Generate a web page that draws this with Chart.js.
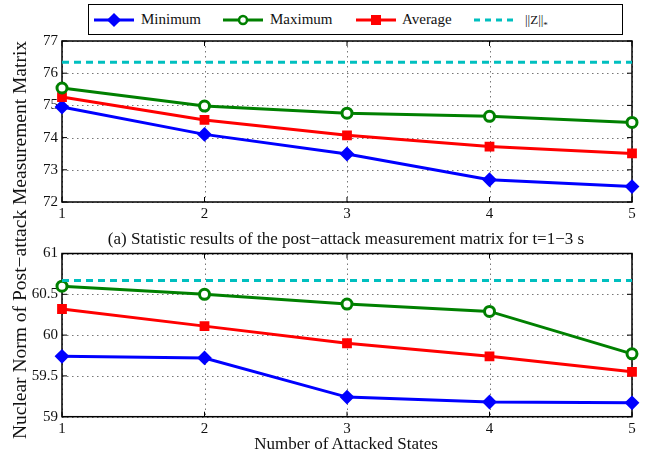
<!DOCTYPE html>
<html>
<head>
<meta charset="utf-8">
<script src="https://cdn.jsdelivr.net/npm/chart.js@4/dist/chart.umd.min.js"></script>
<style>
  body { margin: 0; background: #fff; }
  #wrap { position: relative; width: 652px; height: 459px; font-family: 'Liberation Serif', 'DejaVu Serif', serif; color: #111; }
  .cv { position: absolute; left: 0; }
  .legend { position: absolute; left: 88px; top: 4px; width: 533px; height: 29px; border: 1px solid #000; background: #fff; z-index: 3;
            font-family: 'Liberation Serif', serif; }
  .legend .item { position: absolute; top: 0; height: 29px; line-height: 29px; font-size: 15px; }
  .legend svg { position: absolute; top: 7px; }
  .caption { position: absolute; left: 0; width: 692px; top: 229px; text-align: center; font-size: 17px; }
  .xlabel { position: absolute; left: 0; width: 692px; top: 434px; text-align: center; font-size: 17px; }
  .ylabel { position: absolute; left: 20px; top: 240px; width: 480px; height: 24px; line-height: 24px; margin-left: -240px; margin-top: -12px;
            text-align: center; font-size: 19.5px; transform: rotate(-90deg); white-space: nowrap; color: #111; z-index: 2; }
</style>
</head>
<body>
<div id="wrap">
  <canvas id="top" class="cv" width="652" height="230" style="top:0"></canvas>
  <canvas id="bot" class="cv" width="652" height="229" style="top:230px"></canvas>

  <div class="legend">
    <svg style="left:4px" width="42" height="16"><line x1="1" y1="8" x2="41" y2="8" stroke="#0000ff" stroke-width="3"/><path d="M21 2 L27 8 L21 14 L15 8 Z" fill="#0000ff" stroke="#0000ff" stroke-width="1.5"/></svg>
    <span class="item" style="left:52px">Minimum</span>
    <svg style="left:133px" width="42" height="16"><line x1="1" y1="8" x2="41" y2="8" stroke="#008000" stroke-width="3"/><circle cx="21" cy="8" r="4" fill="#fff" stroke="#008000" stroke-width="2.5"/></svg>
    <span class="item" style="left:181px">Maximum</span>
    <svg style="left:266px" width="42" height="16"><line x1="1" y1="8" x2="41" y2="8" stroke="#ff0000" stroke-width="3"/><rect x="16" y="3" width="10" height="10" fill="#ff0000"/></svg>
    <span class="item" style="left:313px">Average</span>
    <svg style="left:384px" width="42" height="16"><line x1="1" y1="8" x2="41" y2="8" stroke="#00bfbf" stroke-width="3" stroke-dasharray="6,5"/></svg>
    <span class="item" style="left:436px; font-size:13px">||Z||<sub style="font-size:9px">*</sub></span>
  </div>

  <div class="caption">(a) Statistic results of the post−attack measurement matrix for t=1−3 s</div>
  <div class="xlabel">Number of Attacked States</div>
  <div class="ylabel">Nuclear Norm of Post−attack Measurement Matrix</div>
</div>

<script>
'use strict';

var attackedStates = [1, 2, 3, 4, 5];

// t=1-3 s
var minTop  = [74.95, 74.10, 73.49, 72.69, 72.48];
var maxTop  = [75.54, 74.98, 74.76, 74.66, 74.47];
var avgTop  = [75.26, 74.55, 74.07, 73.72, 73.51];
var normTop = 76.34;
var yTicksTop = [72, 73, 74, 75, 76, 77];

// lower panel
var minBot  = [59.74, 59.72, 59.24, 59.18, 59.17];
var maxBot  = [60.60, 60.50, 60.38, 60.29, 59.77];
var avgBot  = [60.32, 60.11, 59.90, 59.74, 59.55];
var normBot = 60.67;
var yTicksBot = [59, 59.5, 60, 60.5, 61];

var FONT = "'Liberation Serif', serif";

function pts(values) {
	return attackedStates.map(function(x, i) { return { x: x, y: values[i] }; });
}

function flat(v) {
	return attackedStates.map(function(x) { return { x: x, y: v }; });
}

// dotted grid, box + inward ticks, matlab style
var framePlugin = {
	id: 'frame',
	beforeDatasetsDraw: function(chart) {
		var ctx = chart.ctx, a = chart.chartArea;
		var xs = chart.scales.x, ys = chart.scales.y;
		ctx.save();

		ctx.strokeStyle = '#777';
		ctx.lineWidth = 1;
		ctx.setLineDash([1.5, 3.5]);
		ctx.beginPath();
		xs.ticks.forEach(function(t) {
			var px = Math.round(xs.getPixelForValue(t.value)) + 0.5;
			ctx.moveTo(px, a.top); ctx.lineTo(px, a.bottom);
		});
		ys.ticks.forEach(function(t) {
			var py = Math.round(ys.getPixelForValue(t.value)) + 0.5;
			ctx.moveTo(a.left, py); ctx.lineTo(a.right, py);
		});
		ctx.stroke();
		ctx.setLineDash([]);

		ctx.strokeStyle = '#000';
		ctx.lineWidth = 1.5;
		ctx.strokeRect(a.left, a.top, a.right - a.left, a.bottom - a.top);
		ctx.lineWidth = 1;
		ctx.beginPath();
		xs.ticks.forEach(function(t) {
			var px = xs.getPixelForValue(t.value);
			ctx.moveTo(px, a.bottom); ctx.lineTo(px, a.bottom - 5);
			ctx.moveTo(px, a.top); ctx.lineTo(px, a.top + 5);
		});
		ys.ticks.forEach(function(t) {
			var py = ys.getPixelForValue(t.value);
			ctx.moveTo(a.left, py); ctx.lineTo(a.left + 5, py);
			ctx.moveTo(a.right, py); ctx.lineTo(a.right - 5, py);
		});
		ctx.stroke();
		ctx.restore();
	}
};

function makeChart(id, mins, maxs, avgs, norm, yTicks, padTop, xHeight) {
	var ctx = document.getElementById(id);
	return new Chart(ctx, {
		type: 'line',
		data: {
			datasets: [
				{ label: '||Z||*', data: flat(norm), borderColor: '#00bfbf', borderWidth: 3,
				  borderDash: [7, 5], pointRadius: 0, clip: false },
				{ label: 'Maximum', data: pts(maxs), borderColor: '#008000', borderWidth: 3,
				  pointStyle: 'circle', pointRadius: 5, pointBorderWidth: 3,
				  pointBackgroundColor: '#fff', pointBorderColor: '#008000', clip: false },
				{ label: 'Average', data: pts(avgs), borderColor: '#ff0000', borderWidth: 3,
				  pointStyle: 'rect', pointRadius: 5.5, pointBorderWidth: 2,
				  pointBackgroundColor: '#ff0000', pointBorderColor: '#ff0000', clip: false },
				{ label: 'Minimum', data: pts(mins), borderColor: '#0000ff', borderWidth: 3,
				  pointStyle: 'rectRot', pointRadius: 6, pointBorderWidth: 2,
				  pointBackgroundColor: '#0000ff', pointBorderColor: '#0000ff', clip: false }
			]
		},
		options: {
			responsive: false,
			animation: false,
			layout: { padding: { top: padTop, right: 20, bottom: 0, left: 0 } },
			plugins: { legend: { display: false }, tooltip: { enabled: false } },
			elements: { line: { tension: 0 } },
			scales: {
				x: {
					type: 'linear',
					min: attackedStates[0],
					max: attackedStates[attackedStates.length - 1],
					afterBuildTicks: function(s) { s.ticks = attackedStates.map(function(v) { return { value: v }; }); },
					afterFit: function(s) { s.height = xHeight; },
					ticks: { color: '#111', font: { family: FONT, size: 15 }, padding: 3, maxRotation: 0 },
					grid: { display: false, drawTicks: false },
					border: { display: false }
				},
				y: {
					min: yTicks[0],
					max: yTicks[yTicks.length - 1],
					afterBuildTicks: function(s) { s.ticks = yTicks.map(function(v) { return { value: v }; }); },
					afterFit: function(s) { s.width = 62; },
					ticks: { color: '#111', font: { family: FONT, size: 15 }, padding: 4,
					         callback: function(v) { return String(v); } },
					grid: { display: false, drawTicks: false },
					border: { display: false }
				}
			}
		},
		plugins: [framePlugin]
	});
}

makeChart('top', minTop, maxTop, avgTop, normTop, yTicksTop, 41, 28);
makeChart('bot', minBot, maxBot, avgBot, normBot, yTicksBot, 23.5, 42.3);
</script>
</body>
</html>
